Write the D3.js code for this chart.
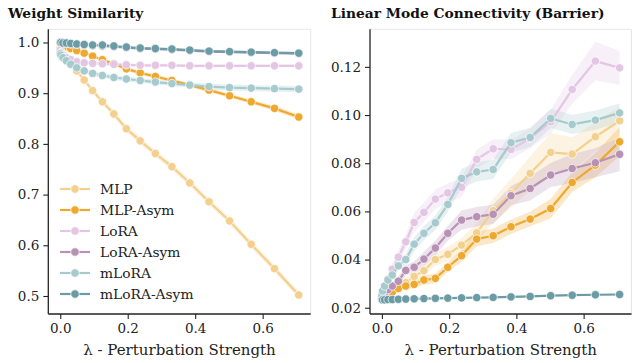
<!DOCTYPE html>
<html><head><meta charset="utf-8">
<script src="https://cdn.jsdelivr.net/npm/d3@7"></script>
<style>body{margin:0;background:#fff}svg{display:block}</style>
</head><body>
<svg id="chart" width="632" height="363"></svg>
<script>
// ---- data ----
const lambdas = [0, 0.002, 0.008, 0.018, 0.031, 0.049, 0.071, 0.096, 0.125, 0.159, 0.196, 0.237, 0.282, 0.331, 0.384, 0.441, 0.502, 0.566, 0.635, 0.707];
const seriesNames = ["MLP", "MLP-Asym", "LoRA", "LoRA-Asym", "mLoRA", "mLoRA-Asym"];
const seriesColors = ["#f3d08e", "#efa82e", "#e3c6e3", "#b792b4", "#a6cacd", "#6b9ba4"];

// Weight similarity (left panel)
const simMLP       = [0.990, 0.985, 0.978, 0.968, 0.957, 0.944, 0.926, 0.905, 0.883, 0.859, 0.830, 0.806, 0.781, 0.755, 0.723, 0.686, 0.648, 0.602, 0.554, 0.502];
const simMLPAsym   = [0.998, 0.997, 0.995, 0.992, 0.988, 0.984, 0.979, 0.973, 0.966, 0.958, 0.948, 0.940, 0.933, 0.925, 0.916, 0.906, 0.895, 0.883, 0.870, 0.853];
const simLoRA      = [0.985, 0.980, 0.975, 0.970, 0.966, 0.962, 0.960, 0.959, 0.958, 0.957, 0.956, 0.955, 0.955, 0.955, 0.954, 0.954, 0.954, 0.954, 0.954, 0.954];
const simLoRAAsym  = [1.000, 1.000, 0.999, 0.998, 0.997, 0.996, 0.995, 0.994, 0.993, 0.992, 0.990, 0.988, 0.987, 0.986, 0.984, 0.982, 0.981, 0.980, 0.979, 0.978];
const simMLoRA     = [0.978, 0.975, 0.970, 0.964, 0.957, 0.950, 0.944, 0.939, 0.935, 0.931, 0.928, 0.925, 0.922, 0.919, 0.916, 0.913, 0.911, 0.910, 0.909, 0.908];
const simMLoRAAsym = [1.000, 1.000, 0.999, 0.999, 0.998, 0.997, 0.996, 0.995, 0.995, 0.993, 0.991, 0.989, 0.988, 0.987, 0.985, 0.983, 0.982, 0.981, 0.980, 0.979];
// band half-widths (left)
const simMLPErr       = [0.001, 0.002, 0.003, 0.004, 0.004, 0.005, 0.005, 0.006, 0.006, 0.006, 0.007, 0.007, 0.007, 0.007, 0.007, 0.007, 0.007, 0.007, 0.007, 0.007];
const simMLPAsymErr   = [0.001, 0.001, 0.001, 0.002, 0.002, 0.002, 0.003, 0.003, 0.003, 0.003, 0.004, 0.004, 0.004, 0.004, 0.004, 0.004, 0.004, 0.004, 0.005, 0.005];
const simLoRAErr      = [0.002, 0.002, 0.002, 0.003, 0.003, 0.003, 0.003, 0.003, 0.003, 0.003, 0.003, 0.003, 0.003, 0.003, 0.003, 0.003, 0.003, 0.003, 0.003, 0.003];
const simLoRAAsymErr  = [0.000, 0.000, 0.000, 0.001, 0.001, 0.001, 0.001, 0.001, 0.001, 0.001, 0.001, 0.001, 0.001, 0.001, 0.001, 0.001, 0.001, 0.001, 0.001, 0.001];
const simMLoRAErr     = [0.002, 0.003, 0.003, 0.004, 0.004, 0.005, 0.005, 0.005, 0.005, 0.005, 0.005, 0.005, 0.005, 0.005, 0.005, 0.006, 0.006, 0.006, 0.006, 0.006];
const simMLoRAAsymErr = [0.000, 0.000, 0.000, 0.001, 0.001, 0.001, 0.001, 0.001, 0.001, 0.001, 0.001, 0.001, 0.001, 0.001, 0.001, 0.001, 0.001, 0.001, 0.001, 0.001];

// Linear mode connectivity barrier (right panel)
const lmcMLP       = [0.0240, 0.0245, 0.0255, 0.0265, 0.0280, 0.0290, 0.0304, 0.0330, 0.0354, 0.0400, 0.0422, 0.0460, 0.0511, 0.0603, 0.0675, 0.0758, 0.0845, 0.0838, 0.0910, 0.0976];
const lmcMLPAsym   = [0.0235, 0.0240, 0.0245, 0.0250, 0.0265, 0.0280, 0.0290, 0.0297, 0.0315, 0.0322, 0.0368, 0.0416, 0.0485, 0.0499, 0.0536, 0.0568, 0.0612, 0.0720, 0.0792, 0.0889];
const lmcLoRA      = [0.0260, 0.0270, 0.0290, 0.0320, 0.0360, 0.0410, 0.0474, 0.0554, 0.0596, 0.0651, 0.0677, 0.0700, 0.0816, 0.0860, 0.0857, 0.0903, 0.0972, 0.1106, 0.1224, 0.1196];
const lmcLoRAAsym  = [0.0245, 0.0250, 0.0260, 0.0275, 0.0290, 0.0310, 0.0355, 0.0368, 0.0402, 0.0448, 0.0509, 0.0564, 0.0578, 0.0588, 0.0665, 0.0695, 0.0751, 0.0778, 0.0802, 0.0837];
const lmcMLoRA     = [0.0250, 0.0270, 0.0290, 0.0315, 0.0336, 0.0374, 0.0400, 0.0464, 0.0509, 0.0553, 0.0629, 0.0737, 0.0764, 0.0774, 0.0885, 0.0907, 0.0986, 0.0961, 0.0979, 0.1009];
const lmcMLoRAAsym = [0.0233, 0.0233, 0.0233, 0.0234, 0.0234, 0.0235, 0.0236, 0.0237, 0.0238, 0.0239, 0.0240, 0.0241, 0.0242, 0.0243, 0.0245, 0.0247, 0.0250, 0.0252, 0.0254, 0.0255];
// band half-widths (right)
const lmcMLPErr       = [0.0010, 0.0010, 0.0010, 0.0015, 0.0015, 0.0020, 0.0020, 0.0020, 0.0020, 0.0025, 0.0030, 0.0030, 0.0040, 0.0050, 0.0060, 0.0070, 0.0080, 0.0070, 0.0060, 0.0060];
const lmcMLPAsymErr   = [0.0005, 0.0005, 0.0010, 0.0010, 0.0010, 0.0015, 0.0015, 0.0015, 0.0020, 0.0020, 0.0020, 0.0025, 0.0030, 0.0030, 0.0030, 0.0030, 0.0040, 0.0040, 0.0050, 0.0060];
const lmcLoRAErr      = [0.0010, 0.0010, 0.0015, 0.0020, 0.0025, 0.0030, 0.0030, 0.0040, 0.0040, 0.0040, 0.0040, 0.0040, 0.0040, 0.0040, 0.0040, 0.0040, 0.0050, 0.0060, 0.0080, 0.0070];
const lmcLoRAAsymErr  = [0.0005, 0.0005, 0.0010, 0.0010, 0.0015, 0.0020, 0.0020, 0.0025, 0.0030, 0.0030, 0.0030, 0.0040, 0.0040, 0.0040, 0.0040, 0.0050, 0.0050, 0.0060, 0.0060, 0.0070];
const lmcMLoRAErr     = [0.0005, 0.0010, 0.0010, 0.0015, 0.0020, 0.0020, 0.0025, 0.0030, 0.0030, 0.0030, 0.0030, 0.0040, 0.0040, 0.0040, 0.0040, 0.0040, 0.0040, 0.0040, 0.0040, 0.0040];
const lmcMLoRAAsymErr = [0.0002, 0.0002, 0.0002, 0.0002, 0.0002, 0.0002, 0.0002, 0.0002, 0.0002, 0.0002, 0.0002, 0.0002, 0.0002, 0.0002, 0.0003, 0.0003, 0.0003, 0.0003, 0.0003, 0.0003];

const xTicks = [0.0, 0.2, 0.4, 0.6];
const simTicks = [0.5, 0.6, 0.7, 0.8, 0.9, 1.0];
const lmcTicks = [0.02, 0.04, 0.06, 0.08, 0.10, 0.12];
const titles = ["Weight Similarity", "Linear Mode Connectivity (Barrier)"];
const xLabel = "λ - Perturbation Strength";

// ---- drawing ----
const svg = d3.select("#chart");
const FONT = "'DejaVu Serif', serif";

function panel(cfg) {
  const {left, right, top, bottom, yDomain, yTicks, yFmt, values, errs, title, titleX, legend} = cfg;
  const x = d3.scaleLinear().domain([-0.0354, 0.7424]).range([left, right]);
  const y = d3.scaleLinear().domain(yDomain).range([bottom, top]);
  const g = svg.append("g");

  // light frame top/right
  g.append("line").attr("x1", left).attr("x2", right).attr("y1", top).attr("y2", top)
    .attr("stroke", "#e6e6e6").attr("stroke-width", 1);
  g.append("line").attr("x1", right).attr("x2", right).attr("y1", top).attr("y2", bottom)
    .attr("stroke", "#e6e6e6").attr("stroke-width", 1);

  const area = d3.area().x((d, i) => x(lambdas[i])).y0(d => y(d[0] - d[1])).y1(d => y(d[0] + d[1]));
  const line = d3.line().x((d, i) => x(lambdas[i])).y(d => y(d));

  values.forEach((vals, k) => {
    const col = seriesColors[k];
    g.append("path").datum(vals.map((v, i) => [v, errs[k][i]]))
      .attr("d", area).attr("fill", col).attr("fill-opacity", 0.26).attr("stroke", "none");
  });
  values.forEach((vals, k) => {
    const col = seriesColors[k];
    g.append("path").datum(vals).attr("d", line).attr("fill", "none")
      .attr("stroke", col).attr("stroke-width", 2.2);
    g.selectAll(null).data(vals).enter().append("circle")
      .attr("cx", (d, i) => x(lambdas[i])).attr("cy", d => y(d)).attr("r", 4.2)
      .attr("fill", col).attr("stroke", "#fff").attr("stroke-width", 0.7);
  });

  // axes
  const xa = g.append("g").attr("transform", `translate(0,${bottom})`)
    .call(d3.axisBottom(x).tickValues(xTicks).tickFormat(d3.format(".1f")).tickSize(5).tickPadding(4));
  const ya = g.append("g").attr("transform", `translate(${left},0)`)
    .call(d3.axisLeft(y).tickValues(yTicks).tickFormat(yFmt).tickSize(5).tickPadding(4));
  [xa, ya].forEach(a => {
    a.select(".domain").attr("stroke", "#222").attr("stroke-width", 1.3);
    a.selectAll(".tick line").attr("stroke", "#222").attr("stroke-width", 1.1);
    a.selectAll(".tick text").attr("fill", "#222").style("font-family", FONT).style("font-size", "13.5px");
  });
  xa.select(".domain").attr("d", `M${left},0H${right}`);
  ya.select(".domain").attr("d", `M0,${bottom}V${top}`);

  g.append("text").attr("x", (left + right) / 2).attr("y", 355).attr("text-anchor", "middle")
    .style("font-family", FONT).style("font-size", "15px").attr("fill", "#222").text(xLabel);
  g.append("text").attr("x", titleX).attr("y", 18).attr("text-anchor", "start")
    .style("font-family", FONT).style("font-size", "13.8px").style("font-weight", "bold")
    .attr("fill", "#111").text(title);

  if (legend) {
    const lg = g.append("g");
    seriesNames.forEach((name, k) => {
      const yy = 189 + k * 21;
      lg.append("line").attr("x1", 60).attr("x2", 90).attr("y1", yy).attr("y2", yy)
        .attr("stroke", seriesColors[k]).attr("stroke-width", 2.2);
      lg.append("circle").attr("cx", 75).attr("cy", yy).attr("r", 4.2)
        .attr("fill", seriesColors[k]).attr("stroke", "#fff").attr("stroke-width", 0.7);
      lg.append("text").attr("x", 100).attr("y", yy + 4.8)
        .style("font-family", FONT).style("font-size", "13.8px").attr("fill", "#222").text(name);
    });
  }
}

panel({
  left: 48.3, right: 310.7, top: 29.3, bottom: 314,
  yDomain: [0.4645, 1.026], yTicks: simTicks, yFmt: d3.format(".1f"),
  values: [simMLP, simMLPAsym, simLoRA, simLoRAAsym, simMLoRA, simMLoRAAsym],
  errs: [simMLPErr, simMLPAsymErr, simLoRAErr, simLoRAAsymErr, simMLoRAErr, simMLoRAAsymErr],
  title: titles[0], titleX: 8, legend: true
});
panel({
  left: 370, right: 631.5, top: 29.3, bottom: 314,
  yDomain: [0.0174, 0.1356], yTicks: lmcTicks, yFmt: d3.format(".2f"),
  values: [lmcMLP, lmcMLPAsym, lmcLoRA, lmcLoRAAsym, lmcMLoRA, lmcMLoRAAsym],
  errs: [lmcMLPErr, lmcMLPAsymErr, lmcLoRAErr, lmcLoRAAsymErr, lmcMLoRAErr, lmcMLoRAAsymErr],
  title: titles[1], titleX: 331, legend: false
});
</script>
</body></html>
